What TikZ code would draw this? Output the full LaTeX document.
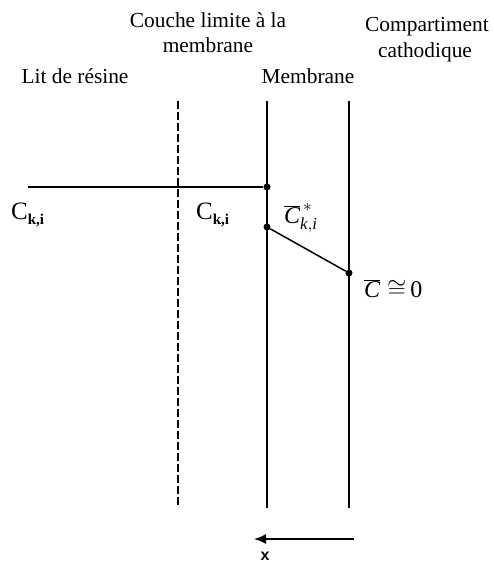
\documentclass[tikz,border=0pt]{standalone}
\usepackage{fontspec}
\setmainfont{Liberation Serif}
\setsansfont{Liberation Sans}
\usetikzlibrary{arrows.meta}
\begin{document}
\begin{tikzpicture}[x=1pt,y=-1pt,
  lbl/.style={font=\fontsize{21.4}{25}\selectfont, inner sep=0pt, anchor=base},
  conc/.style={font=\fontsize{25}{25}\selectfont, inner sep=0pt, anchor=base west},
  mth/.style={font=\fontsize{24}{24}\selectfont, inner sep=0pt, anchor=base west},
  wall/.style={line width=1.7pt},
  dotn/.style={circle, fill=black, inner sep=0pt, minimum size=7pt}]
\useasboundingbox (0,0) rectangle (493,565);
% top labels
\node[lbl] (couche1) at (208,27) {Couche limite à la};
\node[lbl] (couche2) at (208,52) {membrane};
\node[lbl] (comp1) at (427,31) {Compartiment};
\node[lbl] (comp2) at (425,57) {cathodique};
\node[lbl] (lit) at (75,83) {Lit de résine};
\node[lbl] (memb) at (308,83) {Membrane};
% vertical lines
\coordinate (dt) at (178,101); \coordinate (db) at (178,508);
\coordinate (mlt) at (267,101); \coordinate (mlb) at (267,508);
\coordinate (mrt) at (349,101); \coordinate (mrb) at (349,508);
\draw[line width=1.6pt, dash pattern=on 8pt off 3pt] (dt) -- (db);
\draw[wall] (mlt) -- (mlb);
\draw[wall] (mrt) -- (mrb);
% concentration profile
\coordinate (start) at (28,187);
\node[dotn] (p1) at (267,187) {};
\node[dotn] (p2) at (267,227) {};
\node[dotn] (p3) at (349,273) {};
\draw[line width=1.5pt] (start) -- (p1);
\draw[line width=1.5pt] (p2) -- (p3);
% labels
\node[conc] (c1) at (11,219) {C\raisebox{-5pt}{\fontsize{15}{15}\selectfont\bfseries k,i}};
\node[conc] (c2) at (196,219) {C\raisebox{-5pt}{\fontsize{15}{15}\selectfont\bfseries k,i}};
\node[mth] (c3) at (284,223) {$\overline{\mathit{C}}^{\,*}_{\mathit{k,i}}$};
\node[mth] (c4) at (364,297) {$\overline{\mathit{C}}\cong$\,0};
% x axis arrow
\coordinate (ar) at (354,539);
\coordinate (al) at (254,539);
\draw[line width=1.7pt, -{Latex[length=12pt,width=10pt]}] (ar) -- (al);
\node[font=\sffamily\bfseries\fontsize{16}{16}\selectfont, inner sep=0pt] (x) at (265,556) {x};
\end{tikzpicture}
\end{document}
